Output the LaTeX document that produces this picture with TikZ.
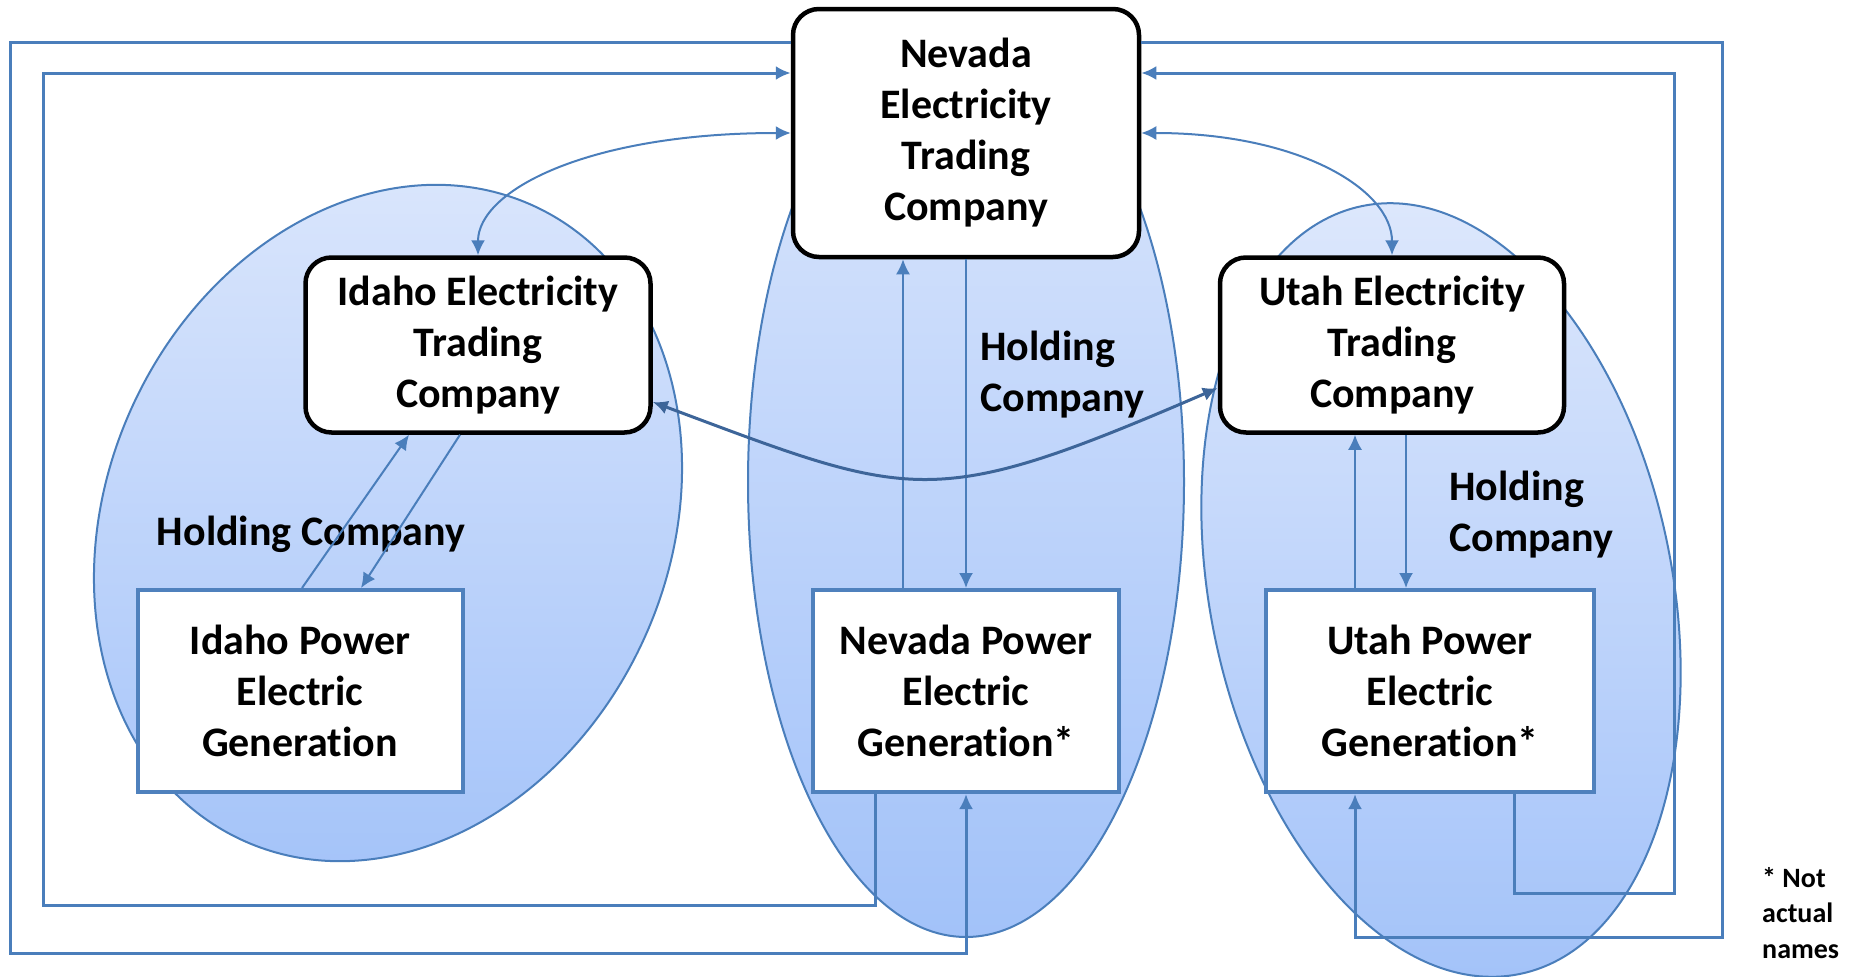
\documentclass[tikz,border=0pt]{standalone}
\usepackage{fontspec}
\setmainfont{Carlito}[Ligatures=NoCommon]
\usetikzlibrary{arrows.meta}
\definecolor{lineblue}{RGB}{74,126,187}
\definecolor{boxblue}{RGB}{79,129,189}
\definecolor{darkblue}{RGB}{61,101,153}
\definecolor{filltop}{RGB}{220,231,252}
\definecolor{fillbot}{RGB}{162,194,249}
\begin{document}
\begin{tikzpicture}[x=1pt,y=-1pt,>={Latex[length=15pt,width=14pt]}]
        \tikzset{trade/.style={draw,line width=4.5pt,rounded corners=26pt,fill=white,align=center,font=\bfseries\fontsize{42}{51}\selectfont},
                 gen/.style={draw=boxblue,line width=4pt,fill=white,align=center,font=\bfseries\fontsize{42}{51}\selectfont},
                 hold/.style={draw=lineblue,line width=2pt,top color=filltop,bottom color=fillbot},
                 txt/.style={inner sep=0pt,font=\bfseries\fontsize{42}{51}\selectfont},
                 note/.style={inner sep=0pt,align=left,font=\bfseries\fontsize{28}{35.5}\selectfont},
                 wire/.style={lineblue,line width=3pt},
                 link/.style={lineblue,line width=2pt}};
        \useasboundingbox (0,0) rectangle (1858,977);
        \draw[hold,rotate around={-24.7:(388,523)}] (388,523) ellipse[x radius=281,y radius=349];
        \draw[hold] (966,482) ellipse[x radius=218,y radius=455];
        \draw[hold,rotate around={11.6:(1441,590)}] (1441,590) ellipse[x radius=231,y radius=392];
        \node[trade,minimum width=346pt,minimum height=248pt] (nevtrade) at (966,133) {Nevada\\Electricity\\Trading\\Company};
        \node[trade,minimum width=345pt,minimum height=175pt] (idtrade) at (478,345) {Idaho Electricity\\Trading\\Company};
        \node[trade,minimum width=344pt,minimum height=175pt] (uttrade) at (1392,345) {Utah Electricity\\Trading\\Company};
        \node[gen,minimum width=325pt,minimum height=202pt] (idgen) at (300,691) {Idaho Power\\Electric\\Generation};
        \node[gen,minimum width=306pt,minimum height=202pt] (nevgen) at (966,691) {Nevada Power\\Electric\\Generation*};
        \node[gen,minimum width=328pt,minimum height=202pt] (utgen) at (1430,691) {Utah Power\\Electric\\Generation*};
        \node[txt] (idhold) at (311,534) {Holding Company};
        \node[txt,anchor=west,align=left] (nevhold) at (980,375) {Holding\\Company};
        \node[txt,anchor=west,align=left] (uthold) at (1449,515) {Holding\\Company};
        \node[note,anchor=west] (footnote) at (1762,913) {* Not\\actual\\names};
        \draw[wire,->] ([yshift=91pt]nevtrade.west) -| (10,953) -| (nevgen.south);
        \draw[wire,->] ([xshift=-91pt]nevgen.south) |- (43,905) |- ([yshift=60pt]nevtrade.west);
        \draw[wire,->] ([yshift=91pt]nevtrade.east) -| (1722,937) -| ([xshift=-75pt]utgen.south);
        \draw[wire,->] ([xshift=84pt]utgen.south) |- (1674,893) |- ([yshift=60pt]nevtrade.east);
        \draw[link,->] ([xshift=2pt]idgen.north) -- ([xshift=-69pt]idtrade.south);
        \draw[link,->] ([xshift=-18pt]idtrade.south) -- ([xshift=61pt]idgen.north);
        \draw[link,->] ([xshift=-63pt]nevgen.north) -- ([xshift=-63pt]nevtrade.south);
        \draw[link,->] (nevtrade.south) -- (nevgen.north);
        \draw[link,->] ([xshift=-75pt]utgen.north) -- ([xshift=-37pt]uttrade.south);
        \draw[link,->] ([xshift=14pt]uttrade.south) -- ([xshift=-24pt]utgen.north);
        \draw[link,<->] (nevtrade.west) .. controls (589,133) and (478,190) .. (idtrade.north);
        \draw[link,<->] (nevtrade.east) .. controls (1300,133) and (1392,190) .. (uttrade.north);
        \draw[darkblue,line width=3pt,<->] ([yshift=-57pt]idtrade.east) .. controls (915,500) and (930,512) .. ([yshift=-43pt]uttrade.west);
    \end{tikzpicture}
\end{document}
